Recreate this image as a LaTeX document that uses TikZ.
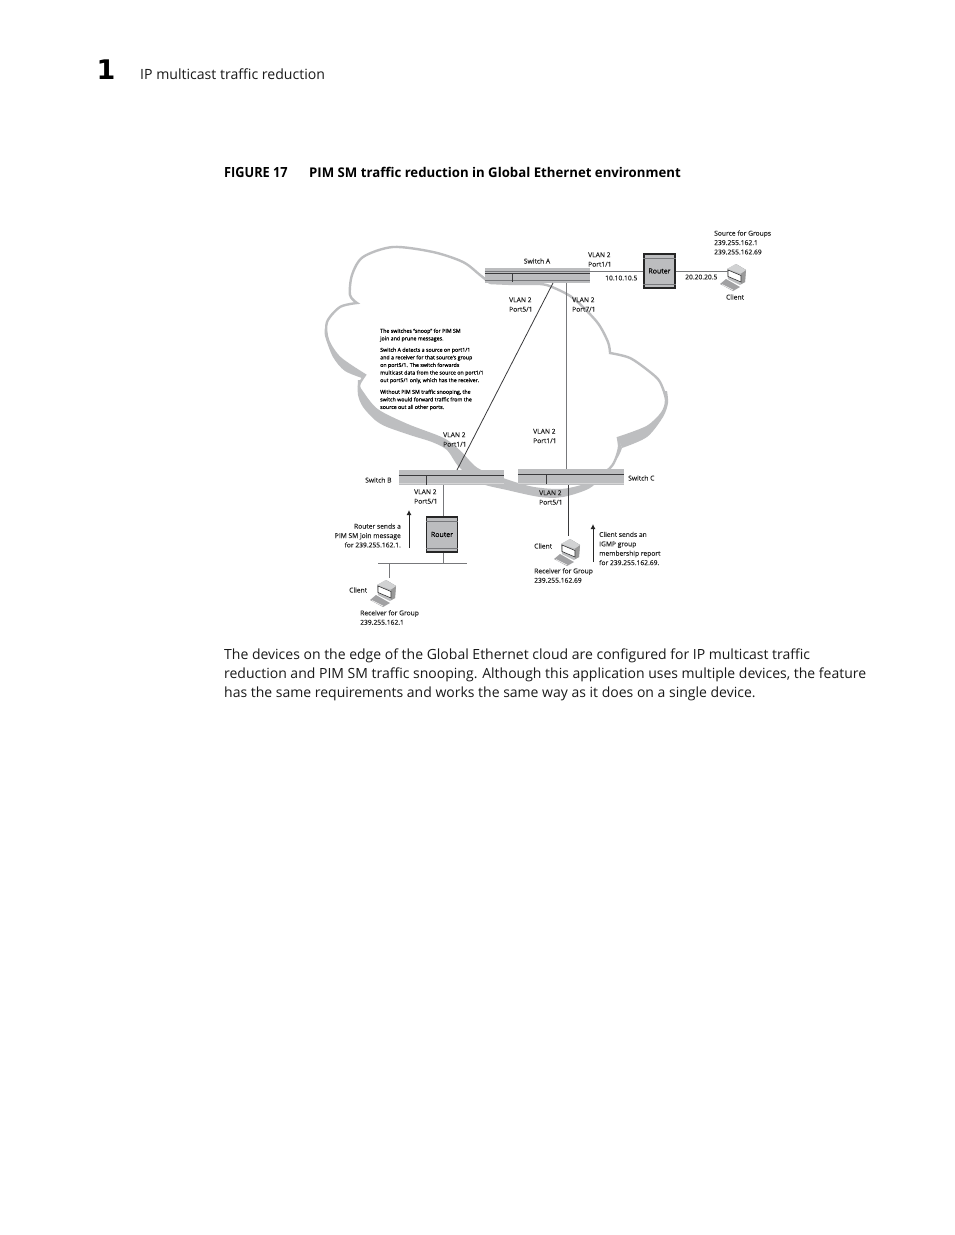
\documentclass[tikz,border=0pt]{standalone}
\usepackage{fontspec}
\setmainfont{Open Sans}
\newfontfamily\figfont[FakeBold=0.15]{Open Sans}
\newfontfamily\notefont[FakeBold=0.4]{Open Sans}
\newfontfamily\headfont{DejaVu Sans}
\usetikzlibrary{arrows.meta}
\definecolor{cloudgray}{HTML}{BDBEC0}
\definecolor{boxgray}{HTML}{BCBDBF}
\definecolor{linegray}{HTML}{77787B}
\definecolor{darkline}{HTML}{3A3A3C}
\tikzset{
  x=1pt,y=-1pt,
  lab/.style={font=\figfont\fontsize{6.7}{9.4}\selectfont,anchor=west,inner sep=0pt,align=left,text=black!85},
  labc/.style={lab,anchor=center,align=center},
  labr/.style={lab,anchor=east,align=right},
  note/.style={font=\notefont\fontsize{5.3}{7.6}\selectfont,anchor=north west,inner sep=0pt,align=left,text=black},
  swbox/.style={fill=boxgray,draw=none,inner sep=0pt,minimum width=105.5pt,minimum height=15.5pt},
  rtbox/.style={fill=boxgray,draw=black!85,line width=1.1pt,inner sep=0pt,minimum width=31pt,minimum height=34pt,font=\notefont\fontsize{7}{8}\selectfont},
  conn/.style={draw=darkline,line width=.7pt},
  connl/.style={draw=linegray,line width=1pt},
  uparrow/.style={draw=black!85,line width=1pt,-{Latex[length=5pt,width=5pt]}},
  page/.style={font=\fontsize{14}{19}\selectfont,anchor=west,inner sep=0pt,align=left,text=black!90},
  computer/.pic={
    \fill[cloudgray!85!black] (-13,7) -- (-7,2) -- (7,10) -- (0,14) -- cycle;
    \fill[cloudgray] (3,-13) -- (13,-7) -- (12,5) -- (7,8) -- (-5,2) -- (-6,-8) -- cycle;
    \fill[black!40] (3,-13) -- (13,-7) -- (12,5) -- (8,7) -- (8,-3) -- cycle;
    \fill[cloudgray!70] (3,-13) -- (13,-7) -- (8,-3.5) -- (-6,-8) -- cycle;
    \filldraw[fill=white,draw=black!80,line width=.6pt] (-5,-7) -- (8,-1.5) -- (8,5) -- (-5,-.5) -- cycle;
    \draw[white,line width=.5pt] (-11,7.5) -- (0,13);
  }
}
\begin{document}
\begin{tikzpicture}
\useasboundingbox (0,0) rectangle (954,1235);
\fill[white] (0,0) rectangle (954,1235);

% page text
\node[font=\headfont\bfseries\fontsize{27}{27}\selectfont,anchor=center,inner sep=0pt] (chap) at (106,70) {1};
\node[page,font=\fontsize{14.1}{16}\selectfont] (head) at (140,74) {IP multicast traffic reduction};
\node[anchor=west,inner sep=0pt,font=\bfseries\fontsize{14}{16}\selectfont] (figno) at (224,172.5) {\scalebox{.91}[1]{FIGURE 17}};
\node[anchor=west,inner sep=0pt,font=\fontsize{13.4}{16}\selectfont\bfseries] (capt) at (309,172) {\scalebox{.985}[1]{PIM SM traffic reduction in Global Ethernet environment}};
\node[page] (para) at (224,675) {The devices on the edge of the Global Ethernet cloud are configured for IP multicast traffic\\reduction and PIM SM traffic snooping. Although this application uses multiple devices, the feature\\has the same requirements and works the same way as it does on a single device.};

% cloud shadows
\fill[cloudgray] plot[smooth] coordinates {(325,328) (325,336) (333,357) (345,371) (365,379)}
  -- plot[smooth] coordinates {(365,374) (345,361) (331,345) (327,328)} -- cycle;
\fill[cloudgray] plot[smooth] coordinates {(358,380) (358,395) (363,407) (375,420) (387,427) (413,436) (432,442) (447,450) (459,467) (480,483) (507,490) (540,497) (563,497) (590,488) (607,471) (618,457) (622,448)}
  -- plot[smooth] coordinates {(618,438) (619,447) (616,458) (610,468) (590,483) (563,489) (533,487) (505,480) (477,468) (460,450) (443,438) (407,424) (377,409) (362,387) (360,380)} -- cycle;
\fill[cloudgray] plot[smooth] coordinates {(622,448) (647,437) (663,417) (668,403) (667,391)}
  -- plot[smooth] coordinates {(665,391) (664,403) (660,413) (647,427) (618,438)} -- cycle;

% cloud outline
\path[fill=white,draw=cloudgray,line width=2.4pt]
  plot[smooth] coordinates {(490,283) (480,275) (463,262) (433,252) (393,247) (363,257) (352,275) (350,295) (357,303)}
  -- plot[smooth] coordinates {(357,303) (340,307) (327,322) (328,340) (340,358) (365,375)}
  -- plot[smooth] coordinates {(365,375) (359,385) (362,392) (377,410) (407,425) (443,439) (460,452) (477,469) (505,480) (533,488) (563,490) (590,483) (610,468) (616,458) (619,447) (618,438)}
  -- plot[smooth] coordinates {(618,438) (647,427) (662,413) (666,400) (660,382) (650,372) (630,358) (610,353)}
  -- plot[smooth] coordinates {(610,353) (608,342) (597,322) (573,298) (552,287) (540,284) (515,284) (490,283)};

% devices
\node[swbox,minimum height=15pt] (swA) at (537.5,275.5) {};
\node[swbox] (swB) at (451.5,477.5) {};
\node[swbox,minimum width=106pt] (swC) at (571,477) {};
\node[rtbox] (rtA) at (659.5,271) {Router};
\node[rtbox,minimum height=35pt] (rtB) at (442,534.5) {Router};
\coordinate (tapAB) at (553,283);
\coordinate (tapBA) at (457,470);
\coordinate (tapAC) at (566,283);
\coordinate (lanB) at (422.5,563);
\coordinate (lanBleft) at (378,563);
\coordinate (lanBright) at (467,563);
\coordinate (lanBtap) at (389,563);
\coordinate (tapBr) at (443.5,485);
\coordinate (tapCc) at (568.7,485);
\pic (pcA) at (733,277) {computer};
\pic (pcB) at (383,593) {computer};
\pic (pcC) at (567,552) {computer};
\coordinate (pcAin) at (728,271);
\coordinate (pcBin) at (389,578);
\coordinate (pcCin) at (568.7,536);

% connectors
\draw[conn,line width=.8pt] (tapAB) -- (tapBA);
\draw[connl] (tapAC) -- (tapAC |- swC.north);
\draw[connl] (swA.east |- rtA.west) -- (rtA.west);
\draw[connl] (rtA.east) -- (pcAin);
\draw[connl] (tapBr) -- (tapBr |- rtB.north);
\draw[connl] (tapBr |- rtB.south) -- (tapBr |- lanB);
\draw[connl] (lanBleft) -- (lanBright);
\draw[connl] (lanBtap) -- (pcBin);
\draw[conn,line width=1pt] (tapCc) -- (pcCin);

% switch details
\draw[darkline,line width=.7pt] (swA.west |- 0,273) -- (swA.east |- 0,273);
\draw[linegray,line width=.6pt] (swA.west |- 0,271) -- (swA.east |- 0,271);
\draw[linegray,line width=.6pt] (swA.west |- 0,280.5) -- (swA.east |- 0,280.5);
\draw[darkline,line width=.6pt] (512,273) -- (512,282);
\draw[darkline,line width=.7pt] (swB.west |- 0,475) -- (swB.east |- 0,475);
\draw[white!70!linegray,line width=.5pt] (swB.west |- 0,483) -- (swB.east |- 0,483);
\draw[darkline,line width=.6pt] (426,475) -- (426,485);
\draw[darkline,line width=.7pt] (swC.west |- 0,474) -- (swC.east |- 0,474);
\draw[white!70!linegray,line width=.5pt] (swC.west |- 0,483) -- (swC.east |- 0,483);
\draw[darkline,line width=.6pt] (546,474) -- (546,484);
\foreach \r/\t/\b in {rtA/258/284,rtB/521/548}{
  \draw[linegray,line width=.5pt] (\r.west |- 0,\t) -- (\r.east |- 0,\t);
  \draw[linegray,line width=.5pt] (\r.west |- 0,\b) -- (\r.east |- 0,\b);
}

% arrows
\coordinate (arrBs) at (409,548);
\coordinate (arrBe) at (409,510);
\coordinate (arrCs) at (593,562);
\coordinate (arrCe) at (593,524);
\draw[uparrow] (arrBs) -- (arrBe);
\draw[uparrow] (arrCs) -- (arrCe);

% labels
\node[lab] (srcl) at (714,242.5) {Source for Groups\\239.255.162.1\\239.255.162.69};
\node[labc] (cla) at (735,297) {Client};
\node[labc] (sa) at (537,261) {Switch A};
\node[lab] (va1) at (588,259.5) {VLAN 2\\Port1/1};
\node[lab] (ip1) at (605,278) {10.10.10.5};
\node[lab] (ip2) at (685,277) {20.20.20.5};
\node[lab] (va5) at (509,304.5) {VLAN 2\\Port5/1};
\node[lab] (va7) at (572,304.5) {VLAN 2\\Port7/1};
\node[lab] (vb1) at (443,439.5) {VLAN 2\\Port1/1};
\node[lab] (vc1) at (533,436) {VLAN 2\\Port1/1};
\node[lab] (sb) at (365,480) {Switch B};
\node[lab] (sc) at (628,478) {Switch C};
\node[lab] (vb5) at (414,496.5) {VLAN 2\\Port5/1};
\node[lab] (vc5) at (539,497.5) {VLAN 2\\Port5/1};
\node[labr] (rsend) at (401,535.5) {Router sends a\\PIM SM join message\\for 239.255.162.1.};
\node[lab] (csend) at (599,548.5) {Client sends an\\IGMP group\\membership report\\for 239.255.162.69.};
\node[lab] (clc) at (534,546) {Client};
\node[lab] (rcc) at (534,575.5) {Receiver for Group\\239.255.162.69};
\node[lab] (clb) at (349,590) {Client};
\node[lab] (rcb) at (360,617.5) {Receiver for Group\\239.255.162.1};

\node[note] (n1) at (380,328.5) {The switches “snoop” for PIM SM\\join and prune messages.};
\node[note] (n2) at (380,347.5) {Switch A detects a source on port1/1\\and a receiver for that source's group\\on port5/1. The switch forwards\\multicast data from the source on port1/1\\out port5/1 only, which has the receiver.};
\node[note] (n3) at (380,389.5) {Without PIM SM traffic snooping, the\\switch would forward traffic from the\\source out all other ports.};
\end{tikzpicture}
\end{document}
